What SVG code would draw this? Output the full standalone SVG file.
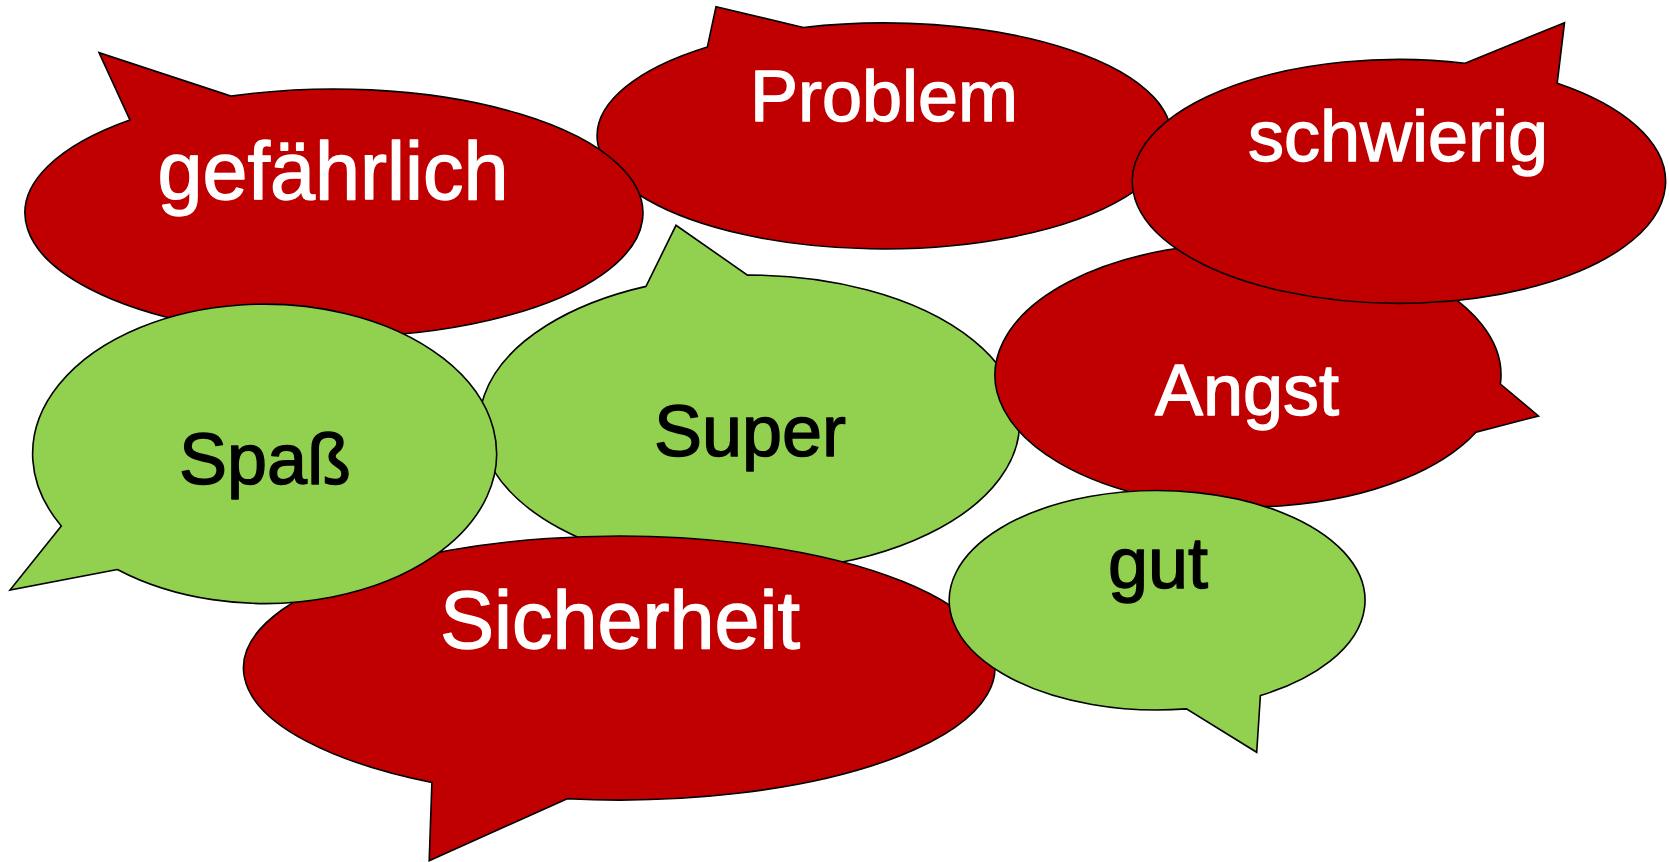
<svg xmlns="http://www.w3.org/2000/svg" width="1669" height="862" viewBox="0 0 1669 862">
<style>
.red{fill:#C00000;stroke:#000;stroke-width:1.6;stroke-linejoin:miter}
.green{fill:#92D050;stroke:#000;stroke-width:1.6;stroke-linejoin:miter}
.t{font-family:"Liberation Sans",Arial,sans-serif;text-anchor:middle;stroke-width:1.4;stroke-linejoin:round}
.w{fill:#fff;stroke:#fff}
.b{fill:#000;stroke:#000}
.s72{font-size:72px}
.s81{font-size:81px}
</style>
<rect width="1669" height="862" fill="#fff"/>
<g id="problem">
<path class="red" d="M707.4 46.9 L716 6.7 L803.4 27.5 A287 113 0 1 1 707.4 46.9 Z"/>
<text class="t w s72" x="884" y="121">Problem</text>
</g>
<g id="gefaehrlich">
<path class="red" d="M129.9 119.9 L99 52.7 L231 96.1 A309 124 0 1 1 129.9 119.9 Z"/>
<text class="t w s81" x="333" y="199">gefährlich</text>
</g>
<g id="super">
<path class="green" d="M646 286.4 L676 225.3 L747.5 275.1 A270 148 0 1 1 646 286.4 Z"/>
<text class="t b s72" x="750" y="456">Super</text>
</g>
<g id="angst">
<path class="red" d="M1500.4 384 L1538.5 416 L1476 432.2 A253 132 0 1 1 1500.4 384 Z"/>
<text class="t w s72" x="1247" y="415">Angst</text>
</g>
<g id="schwierig">
<path class="red" d="M1465.1 63.2 L1564.5 22.7 L1557.2 83.2 A266.7 122 0 1 1 1465.1 63.2 Z"/>
<text class="t w s72" x="1398" y="161">schwierig</text>
</g>
<g id="sicherheit">
<path class="red" d="M567.2 798.8 L429.2 860.7 L431.9 782.5 A375.7 132 0 1 1 567.2 798.8 Z"/>
<text class="t w s81" x="620" y="648">Sicherheit</text>
</g>
<g id="spass">
<path class="green" d="M117.4 569.5 L10 590 L61.3 525.9 A232 149.7 0 1 1 117.4 569.5 Z"/>
<text class="t b s72" x="265" y="484">Spaß</text>
</g>
<g id="gut">
<path class="green" d="M1260.4 695.5 L1256.7 752.3 L1186.4 708.9 A207.9 109.7 0 1 1 1260.4 695.5 Z"/>
<text class="t b s72" x="1158" y="588">gut</text>
</g>
<g id="connectors"></g>
</svg>
